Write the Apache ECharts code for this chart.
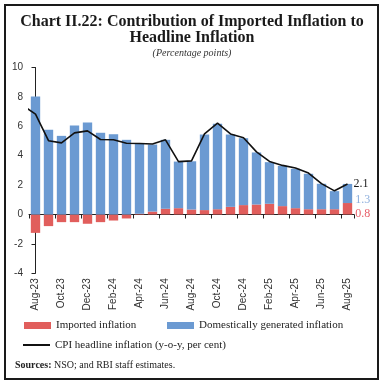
<!DOCTYPE html>
<html>
<head>
<meta charset="utf-8">
<script src="https://cdn.jsdelivr.net/npm/echarts@6/dist/echarts.min.js"></script>
<style>
html,body{margin:0;padding:0;background:#fff;}
#c{width:384px;height:385px;}
</style>
</head>
<body>
<div id="c"></div>
<script>
const categories = ['Aug-23','Sep-23','Oct-23','Nov-23','Dec-23','Jan-24','Feb-24','Mar-24','Apr-24','May-24','Jun-24','Jul-24','Aug-24','Sep-24','Oct-24','Nov-24','Dec-24','Jan-25','Feb-25','Mar-25','Apr-25','May-25','Jun-25','Jul-25','Aug-25'];
const importedInflation = [-1.25,-0.79,-0.52,-0.52,-0.63,-0.52,-0.41,-0.27,0.05,0.20,0.39,0.43,0.34,0.30,0.36,0.52,0.64,0.68,0.73,0.57,0.43,0.36,0.36,0.36,0.78];
const domesticInflation = [8.03,5.76,5.35,6.05,6.26,5.56,5.46,5.08,4.76,4.56,4.69,3.17,3.28,5.14,5.81,4.92,4.55,3.54,2.83,2.74,2.68,2.41,1.73,1.23,1.30];
const cpiPrevMonth = 7.44; // Jul-23, clipped at the axis
const cpiHeadline = [6.83,5.02,4.87,5.55,5.69,5.10,5.09,4.85,4.83,4.80,5.08,3.60,3.65,5.49,6.21,5.48,5.22,4.26,3.61,3.34,3.16,2.82,2.10,1.61,2.07];
const yTicks = [-4,-2,0,2,4,6,8,10];

const SERIF = 'Liberation Serif';
const SANS = 'Liberation Sans';
const last = categories.length - 1;

function withEndLabel(arr, label) {
  return arr.map((v, i) => i === last ? {value: v, label: label} : v);
}

const chart = echarts.init(document.getElementById('c'), null, {renderer: 'canvas'});
chart.setOption({
  animation: false,
  backgroundColor: '#fff',
  title: [{
    text: 'Chart II.22: Contribution of Imported Inflation to\nHeadline Inflation',
    left: 'center', top: 14, padding: 0,
    textStyle: {fontFamily: SERIF, fontWeight: 'bold', fontSize: 16, lineHeight: 16, color: '#1a1a1a'}
  }, {
    text: '(Percentage points)',
    left: 'center', top: 48.5, padding: 0,
    textStyle: {fontFamily: SERIF, fontStyle: 'italic', fontWeight: 'normal', fontSize: 10, color: '#333'}
  }],
  grid: {left: 29, right: 30, top: 67.5, height: 205.8, containLabel: false},
  legend: [{
    data: ['Imported inflation'], left: 24, top: 320, padding: 0,
    icon: 'rect', itemWidth: 27, itemHeight: 7,
    textStyle: {fontFamily: SERIF, fontSize: 11, color: '#222'}
  }, {
    data: ['Domestically generated inflation'], left: 167, top: 320, padding: 0,
    icon: 'rect', itemWidth: 27, itemHeight: 7,
    textStyle: {fontFamily: SERIF, fontSize: 11, color: '#222'}
  }, {
    data: ['CPI headline inflation (y-o-y, per cent)'], left: 23, top: 339.5, padding: 0,
    icon: 'rect', itemWidth: 27, itemHeight: 2,
    textStyle: {fontFamily: SERIF, fontSize: 11, color: '#222'}
  }],
  xAxis: [{
    type: 'category', data: categories, boundaryGap: true,
    axisLine: {onZero: true, lineStyle: {color: '#222', width: 1}},
    axisTick: {show: true, interval: 1, length: 4, lineStyle: {color: '#222'}},
    axisLabel: {show: false}, splitLine: {show: false}
  }, {
    type: 'category', data: categories, boundaryGap: true, position: 'bottom',
    axisLine: {show: false, onZero: false}, axisTick: {show: false},
    axisLabel: {show: true, interval: 1, rotate: 90, margin: 5, fontFamily: SANS, fontSize: 10, color: '#333'},
    splitLine: {show: false}
  }, {
    type: 'value', min: -0.5, max: last + 0.5, show: false
  }],
  yAxis: {
    type: 'value', min: yTicks[0], max: yTicks[yTicks.length - 1], interval: 2,
    axisLine: {show: true, lineStyle: {color: '#222', width: 1}},
    axisTick: {show: true, length: 4, lineStyle: {color: '#222'}},
    axisLabel: {fontFamily: SANS, fontSize: 10, color: '#333', margin: 6},
    splitLine: {show: false}
  },
  series: [{
    name: 'Imported inflation', type: 'bar', stack: 'total', xAxisIndex: 0,
    barCategoryGap: '28%',
    itemStyle: {color: '#E15E5C'},
    data: withEndLabel(importedInflation, {
      show: true, position: 'right', distance: 3, offset: [0, 5.5],
      formatter: p => p.value.toFixed(1),
      fontFamily: SERIF, fontSize: 12, color: '#E8606A'
    })
  }, {
    name: 'Domestically generated inflation', type: 'bar', stack: 'total', xAxisIndex: 0,
    barCategoryGap: '28%',
    itemStyle: {color: '#6B9AD2'},
    data: withEndLabel(domesticInflation, {
      show: true, position: 'right', distance: 3, offset: [0, 6],
      formatter: p => p.value.toFixed(1),
      fontFamily: SERIF, fontSize: 12, color: '#8DAFDD'
    })
  }, {
    name: 'CPI headline inflation (y-o-y, per cent)', type: 'line', xAxisIndex: 2,
    symbol: 'none', clip: true, z: 5,
    lineStyle: {color: '#111', width: 1.6},
    itemStyle: {color: '#111'},
    endLabel: {show: true, distance: 6, formatter: p => p.value[1].toFixed(1), fontFamily: SERIF, fontSize: 12, color: '#1a1a1a'},
    data: [[-1, cpiPrevMonth]].concat(cpiHeadline.map((v, i) => [i, v]))
  }],
  graphic: [{
    type: 'rect', shape: {x: 5, y: 5, width: 373, height: 374},
    style: {fill: 'none', stroke: '#1a1a1a', lineWidth: 2}, silent: true
  }, {
    type: 'text', left: 15, top: 360,
    style: {
      text: '{b|Sources:} NSO; and RBI staff estimates.',
      fontFamily: SERIF, fontSize: 10, fill: '#222',
      rich: {b: {fontFamily: SERIF, fontSize: 10, fontWeight: 'bold', fill: '#222'}}
    }
  }]
});
</script>
</body>
</html>
